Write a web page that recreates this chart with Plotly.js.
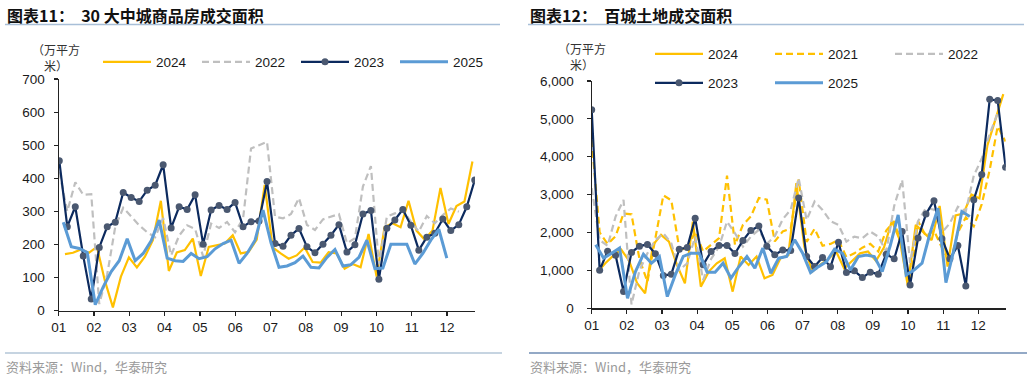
<!DOCTYPE html>
<html>
<head>
<meta charset="utf-8">
<script src="https://cdn.plot.ly/plotly-3.0.1.min.js"></script>
<style>html,body{margin:0;padding:0;background:#fff;}#chart{width:1030px;height:378px;}</style>
</head>
<body>
<div id="chart"></div>
<script>
// ---------- DATA ----------
const monthLabels = ['01','02','03','04','05','06','07','08','09','10','11','12'];

// Left chart: 30 大中城商品房成交面积 (万平方米), weekly
const left2024 = [171,175,185,175,193,90,10,103,161,131,163,213,332,120,176,183,218,105,193,197,203,228,173,178,215,380,191,173,157,167,191,147,145,177,173,127,141,131,232,103,252,264,252,332,242,215,242,371,262,316,330,451];
const left2022 = [420,300,388,350,352,20,110,253,311,283,258,237,222,280,167,227,258,247,164,263,250,268,237,278,490,500,510,284,279,292,340,259,244,276,284,292,204,219,375,437,140,284,294,304,269,239,286,264,289,309,299];
const left2023 = [453,254,314,165,35,191,254,267,357,342,330,364,379,441,250,314,306,350,201,304,318,306,327,254,269,271,390,203,195,228,248,193,175,201,228,260,177,199,292,303,95,249,274,306,258,183,222,234,277,242,260,314,395];
const left2025 = [267,193,188,176,18,72,118,151,217,151,173,211,274,159,151,149,173,157,163,187,203,213,143,173,213,304,205,131,135,145,165,131,129,161,185,135,139,161,213,127,129,201,201,201,141,173,213,246,159];

// Right chart: 百城土地成交面积 (万平方米), weekly
const right2024 = [950,1188,1390,1550,1250,660,396,1672,1936,1760,1144,660,2288,572,968,1188,1320,440,1364,1144,1364,792,880,1320,1400,3300,1628,968,1150,1300,1500,1050,1250,1450,1500,1250,1600,2300,1800,600,2200,2000,1800,2700,1100,2450,2500,3000,2900,4300,5000,5650];
const right2021 = [4440,2000,1700,1900,2500,2480,1300,700,1850,2980,2850,1588,1543,2030,1500,1676,1852,3500,1676,2205,2425,2910,2866,1764,2029,2100,3400,1750,2100,1650,1700,1800,1350,1450,1600,1700,1500,2050,2300,1600,600,2300,1900,2050,1600,1200,2000,2400,2160,2750,3650,4800,4400];
const right2022 = [3170,1800,1650,2420,2860,100,1000,1450,1800,1980,1716,1012,1188,1892,748,1300,1628,2290,1980,1628,1892,2068,1700,1900,2350,2600,3432,2332,2816,2596,2300,2200,1760,1892,1848,2024,1892,1500,2700,3388,1200,2300,2650,2600,2000,2244,2680,2560,3500,3950,4600,5150];
const right2023 = [5240,1005,1508,1402,441,1473,1640,1685,1438,864,900,1561,1605,2373,1147,1500,1658,1658,1446,1790,2055,2170,1640,1411,1535,1526,2910,1367,1103,1340,1094,1746,944,988,811,953,900,1429,1305,2029,617,1852,2487,2840,1835,1305,1658,591,2866,3528,5513,5486,3722];
const right2025 = [1676,1323,1455,1588,265,970,1429,1190,1367,309,882,1367,1455,1455,953,953,1190,794,1102,1367,1058,1588,926,1323,1367,1810,1452,942,1100,1232,1558,1452,1012,1364,1408,1364,968,1650,2464,880,1012,1188,1980,2640,678,1540,2552,2420];

// week-start offsets of each year on the shared week axis
const weekOffset = {y2021: 0, y2022: 0, y2023: 0, y2024: 0.71, y2025: 0.5};

// ---------- HELPERS ----------
const W = 1030, H = 378;
const fx = v => v / W;
const fy = v => 1 - v / H;
const weeks = (arr, off) => arr.map((_, i) => off + i);

const C24 = '#FFC000', C22 = '#BFBFBF', C23 = '#0C2A5E', C23m = '#4A5870', C25 = '#5B9BD5';
const DASH = '7px,4px';
const FONT = 'Liberation Sans, Arial, sans-serif';
const CJK = 'Noto Sans CJK SC, sans-serif';

function tr(vals, off, name, color, opts) {
  opts = opts || {};
  const t = {
    x: weeks(vals, off), y: vals, name: name, type: 'scatter',
    mode: opts.markers ? 'lines+markers' : 'lines',
    line: {color: color, width: opts.width || 2.2, dash: opts.dash || 'solid'},
    xaxis: opts.xa, yaxis: opts.ya, legend: opts.legend,
    hoverinfo: 'skip'
  };
  if (opts.markers) t.marker = {color: C23m, size: 7};
  return t;
}

const data = [
  tr(left2024, weekOffset.y2024, '2024', C24, {xa:'x', ya:'y', legend:'legend'}),
  tr(left2022, weekOffset.y2022, '2022', C22, {xa:'x', ya:'y', legend:'legend', dash: DASH}),
  tr(left2023, weekOffset.y2023, '2023', C23, {xa:'x', ya:'y', legend:'legend', markers:true}),
  tr(left2025, weekOffset.y2025, '2025', C25, {xa:'x', ya:'y', legend:'legend', width:3}),

  tr(right2024, weekOffset.y2024, '2024', C24, {xa:'x2', ya:'y2', legend:'legend2'}),
  tr(right2021, weekOffset.y2021, '2021', C24, {xa:'x2', ya:'y2', legend:'legend2', dash: DASH}),
  tr(right2022, weekOffset.y2022, '2022', C22, {xa:'x2', ya:'y2', legend:'legend2', dash: DASH}),
  tr(right2023, weekOffset.y2023, '2023', C23, {xa:'x2', ya:'y2', legend:'legend3', markers:true}),
  tr(right2025, weekOffset.y2025, '2025', C25, {xa:'x2', ya:'y2', legend:'legend3', width:3})
];

const tickFont = {family: FONT, size: 13.5, color: '#1a1a1a'};
function xax(domain, range, step, shift) {
  return {
    domain: domain, range: range, showgrid: false, zeroline: false,
    showline: true, linecolor: '#222', linewidth: 1.2,
    ticks: 'outside', ticklen: 4, tickcolor: '#222', tickwidth: 1.2,
    tickvals: monthLabels.map((_, k) => k * step + shift), ticktext: monthLabels,
    tickfont: tickFont, fixedrange: true
  };
}
function yax(domain, range, dtick, fmt, standoff, anchor) {
  return {
    domain: domain, range: range, dtick: dtick, tick0: 0, tickformat: fmt,
    showgrid: false, zeroline: false, showline: true, linecolor: '#222', linewidth: 1.2,
    ticks: 'outside', ticklen: 4, tickcolor: '#222', tickwidth: 1.2,
    tickfont: tickFont, ticklabelstandoff: standoff, anchor: anchor, fixedrange: true
  };
}

const legBase = {
  orientation: 'h', xanchor: 'left', yanchor: 'middle', entrywidthmode: 'pixels',
  font: {family: FONT, size: 13.5, color: '#1a1a1a'}, bgcolor: 'rgba(0,0,0,0)',
  itemwidth: 48, traceorder: 'normal', borderwidth: 0
};

const ann = (x, y, text, size, color, family) => ({
  xref: 'paper', yref: 'paper', x: fx(x), y: fy(y), xanchor: 'left', yanchor: 'middle',
  text: text, showarrow: false, align: 'left',
  font: {family: family || CJK, size: size, color: color}
});
const hline = (x0, x1, y, color, w) => ({
  type: 'line', xref: 'paper', yref: 'paper', x0: fx(x0), x1: fx(x1), y0: fy(y), y1: fy(y),
  line: {color: color, width: w}
});

const layout = {
  width: W, height: H, autosize: false,
  margin: {l: 0, r: 0, t: 0, b: 0, autoexpand: false},
  paper_bgcolor: '#fff', plot_bgcolor: 'rgba(0,0,0,0)',
  showlegend: true,
  xaxis: Object.assign(xax([fx(58.7), fx(475)], [-0.075, 52.03], 4.418, -0.07), {anchor: 'y'}),
  yaxis: yax([fy(310.7), fy(79)], [0, 700], 100, 'd', 6, 'x'),
  xaxis2: Object.assign(xax([fx(591.7), fx(1005.7)], [0, 52.01], 4.415, 0), {anchor: 'y2'}),
  yaxis2: yax([fy(308.3), fy(80.9)], [0, 6000], 1000, ',d', 10, 'x2'),
  legend: Object.assign({}, legBase, {x: fx(98), y: fy(62), entrywidth: 36}),
  legend2: Object.assign({}, legBase, {x: fx(650), y: fy(54), entrywidth: 57}),
  legend3: Object.assign({}, legBase, {x: fx(650), y: fy(83), entrywidth: 57}),
  annotations: [
    ann(5, 15, '<b>图表11：  30 大中城商品房成交面积</b>', 16, '#111'),
    ann(528, 15, '<b>图表12：  百城土地成交面积</b>', 16, '#111'),
    ann(30, 57, '（万平方<br>　米）', 12, '#333'),
    ann(556, 56, '（万平方<br>　米）', 12, '#333'),
    ann(4, 366, '资料来源：Wind，华泰研究', 13, '#9a9a9a'),
    ann(528, 366, '资料来源：Wind，华泰研究', 13, '#9a9a9a')
  ],
  shapes: [
    hline(5, 500, 24.5, '#A8BFD8', 1.5),
    hline(528, 1024, 24.5, '#A8BFD8', 1.5),
    hline(5, 502, 353, '#C6D4E1', 2),
    hline(529, 1027, 353, '#93A9C6', 2)
  ]
};

Plotly.newPlot('chart', data, layout, {staticPlot: true, displayModeBar: false});
</script>
</body>
</html>
